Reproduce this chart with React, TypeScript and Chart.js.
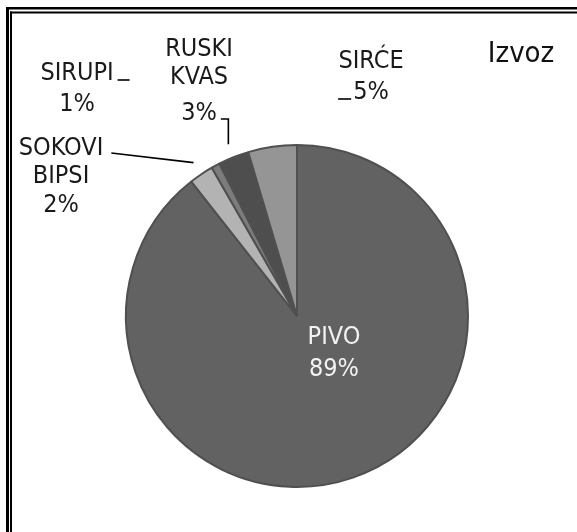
import React, { useEffect, useRef } from 'react';
import { Chart, registerables } from 'chart.js';

Chart.register(...registerables);

// ---- data ----
const categories = ['PIVO', 'SOKOVI BIPSI', 'SIRUPI', 'RUSKI KVAS', 'SIRĆE'];
const shares = [89.4, 2.3, 0.8, 2.9, 4.6];
const sliceColors = ['#626262', '#b3b3b3', '#7c7c7c', '#4e4e4e', '#959595'];
const chartTitle = 'Izvoz';

// ---- layout / style ----
const W = 577;
const H = 532;
const FONT = '"Liberation Sans Narrow", "Arial Narrow", "DejaVu Sans Condensed", sans-serif';
const LABEL_SIZE = 25;
const TITLE_SIZE = 29;

type Leader = 'none' | 'straight' | 'elbow' | 'stubRight' | 'stubLeft';
type LabelLayout = { x: number; ys: number[]; color: string; leader: Leader };

const labelLayout: LabelLayout[] = [
  { x: 334, ys: [335, 367], color: '#f2f2f2', leader: 'none' },
  { x: 61, ys: [146, 174, 203], color: '#1a1a1a', leader: 'straight' },
  { x: 77, ys: [71, 102], color: '#1a1a1a', leader: 'stubRight' },
  { x: 199, ys: [47, 75, 111], color: '#1a1a1a', leader: 'elbow' },
  { x: 371, ys: [59, 90], color: '#1a1a1a', leader: 'stubLeft' },
];

const framePlugin = {
  id: 'frame',
  beforeDraw(chart: any) {
    const ctx = chart.ctx as CanvasRenderingContext2D;
    ctx.save();
    ctx.fillStyle = '#ffffff';
    ctx.fillRect(0, 0, W, H);
    ctx.fillStyle = '#000000';
    // outer double-line frame (right/bottom run off the picture)
    ctx.fillRect(6, 7, 3, H);
    ctx.fillRect(6, 7, W, 2.5);
    // inner line
    ctx.fillRect(10, 11.5, 2, H);
    ctx.fillRect(10, 11.5, W, 2);
    ctx.restore();
  },
};

const labelPlugin = {
  id: 'pieLabels',
  afterDraw(chart: any) {
    const ctx = chart.ctx as CanvasRenderingContext2D;
    const meta = chart.getDatasetMeta(0);
    const data: number[] = chart.data.datasets[0].data;
    const total = data.reduce((a, b) => a + b, 0);
    ctx.save();
    ctx.font = `${LABEL_SIZE}px ${FONT}`;
    ctx.textAlign = 'center';
    ctx.textBaseline = 'alphabetic';
    const capHalf = LABEL_SIZE * 0.36;

    meta.data.forEach((arc: any, i: number) => {
      const lay = labelLayout[i];
      const pct = Math.round((data[i] / total) * 100) + '%';
      const lines = [...String(chart.data.labels[i]).split(' '), pct];
      ctx.fillStyle = lay.color;
      lines.forEach((t, k) => {
        ctx.fillText(t, lay.x, lay.ys[k] + capHalf);
      });

      const p = arc.getProps(['x', 'y', 'startAngle', 'endAngle', 'outerRadius'], true);
      const mid = (p.startAngle + p.endAngle) / 2;
      const rr = p.outerRadius + 14;
      const ex = p.x + Math.cos(mid) * rr;
      const ey = p.y + Math.sin(mid) * rr;

      ctx.strokeStyle = '#000000';
      ctx.lineWidth = 1.6;
      ctx.beginPath();
      if (lay.leader === 'straight') {
        const w = ctx.measureText(lines[0]).width;
        ctx.moveTo(lay.x + w / 2 + 8, lay.ys[0] + 7);
        ctx.lineTo(ex, ey);
      } else if (lay.leader === 'elbow') {
        const last = lines.length - 1;
        const w = ctx.measureText(lines[last]).width;
        const sy = lay.ys[last] + 8;
        ctx.moveTo(lay.x + w / 2 + 4, sy);
        ctx.lineTo(ex, sy);
        ctx.lineTo(ex, ey);
      } else if (lay.leader === 'stubRight') {
        const w = ctx.measureText(lines[0]).width;
        const sx = lay.x + w / 2 + 4;
        const sy = lay.ys[0] + 9;
        ctx.moveTo(sx, sy);
        ctx.lineTo(sx + 12, sy);
      } else if (lay.leader === 'stubLeft') {
        const last = lines.length - 1;
        const w = ctx.measureText(lines[last]).width;
        const sx = lay.x - w / 2 - 2;
        const sy = lay.ys[last] + 9;
        ctx.moveTo(sx - 13, sy);
        ctx.lineTo(sx, sy);
      }
      ctx.stroke();
    });

    // title
    ctx.font = `${TITLE_SIZE}px ${FONT}`;
    ctx.fillStyle = '#111111';
    ctx.textAlign = 'center';
    ctx.fillText(chartTitle, 521, 52 + TITLE_SIZE * 0.36);
    ctx.restore();
  },
};

export default function App() {
  const ref = useRef<HTMLCanvasElement | null>(null);
  useEffect(() => {
    if (!ref.current) return;
    const chart = new Chart(ref.current, {
      type: 'pie',
      data: {
        labels: categories,
        datasets: [
          {
            data: shares,
            backgroundColor: sliceColors,
            borderColor: '#505050',
            borderWidth: 2,
            hoverOffset: 0,
            offset: 0,
          },
        ],
      },
      options: {
        responsive: false,
        animation: false,
        events: [],
        layout: { padding: { left: 125, right: 108, top: 144, bottom: 44 } },
        plugins: {
          legend: { display: false },
          title: { display: false },
          tooltip: { enabled: false },
        },
      },
      plugins: [framePlugin, labelPlugin],
    });
    return () => chart.destroy();
  }, []);
  return (
    <canvas
      ref={ref}
      width={W}
      height={H}
      style={{ position: 'fixed', left: 0, top: 0, width: W, height: H }}
    />
  );
}
